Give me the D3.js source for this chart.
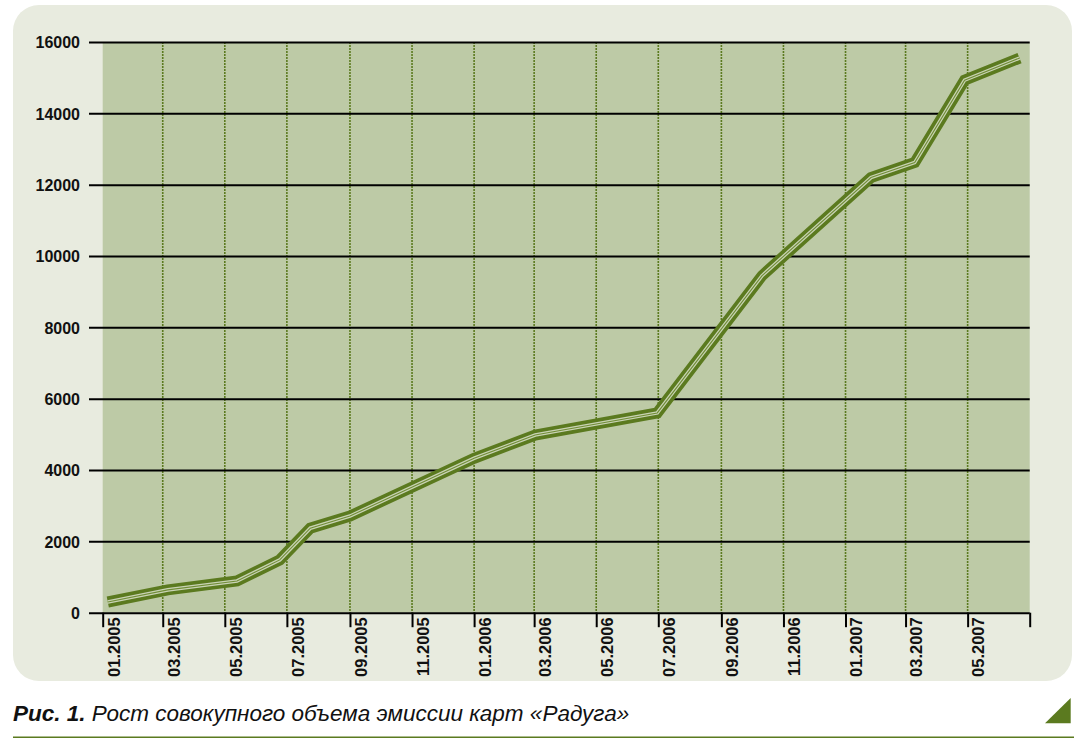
<!DOCTYPE html>
<html>
<head>
<meta charset="utf-8">
<script src="https://cdn.jsdelivr.net/npm/d3@7"></script>
<style>
  body { margin: 0; background: #fff; }
  svg text { fill: #111; }
</style>
</head>
<body>
<div class="chart"></div>
<script>
// cumulative card emission
const pointDates = ['2005-01-06', '2005-03-06', '2005-05-13', '2005-06-24', '2005-07-24', '2005-09-01',
  '2006-01-01', '2006-03-02', '2006-06-30', '2006-10-11', '2007-01-26', '2007-03-10', '2007-04-28', '2007-06-21'];
const emission = [300, 640, 890, 1480, 2370, 2710, 4330, 4980, 5600, 9450, 12200, 12620, 14930, 15550];
const yTicks = [0, 2000, 4000, 6000, 8000, 10000, 12000, 14000, 16000];
const xTickLabels = ['01.2005', '03.2005', '05.2005', '07.2005', '09.2005', '11.2005', '01.2006', '03.2006',
  '05.2006', '07.2006', '09.2006', '11.2006', '01.2007', '03.2007', '05.2007', ''];
const caption = ['Рис. 1.', ' Рост совокупного объема эмиссии карт «Радуга»'];

const W = 1087, H = 750;
const margin = {top: 42, right: 57, bottom: 138, left: 102.7};
const green = '#5b7a1f';

let parseDay = d3.timeParse('%Y-%m-%d');
let parseMonth = d3.timeParse('%m.%Y');
let data = pointDates.map((d, i) => ({date: parseDay(d), value: emission[i]}));

let svg = d3.select('.chart')
  .append('svg')
  .attr('width', W)
  .attr('height', H);

// panel behind the chart
svg.append('rect')
  .attr('x', 13).attr('y', 5)
  .attr('width', 1059).attr('height', 676)
  .attr('rx', 26)
  .attr('fill', '#e8ebdf');

let xScale = d3.scaleTime()
  .domain([parseMonth('01.2005'), parseMonth('07.2007')])
  .range([margin.left, W - margin.right - 0.3]);

let yScale = d3.scaleLinear()
  .domain([0, 16000])
  .range([612.7, margin.top]);

let x0 = xScale.range()[0], x1 = xScale.range()[1];

svg.append('rect')
  .attr('x', x0).attr('y', yScale(16000))
  .attr('width', x1 - x0).attr('height', yScale(0) - yScale(16000))
  .attr('fill', '#bdcaa6');

let tickDates = d3.timeMonth.every(2).range(xScale.domain()[0], d3.timeMonth.offset(xScale.domain()[1], 1));

// dotted verticals
svg.append('g')
  .selectAll('line')
  .data(tickDates.slice(1, -1))
  .enter()
  .append('line')
  .attr('x1', d => xScale(d)).attr('x2', d => xScale(d))
  .attr('y1', yScale(16000)).attr('y2', yScale(0))
  .attr('stroke', green)
  .attr('stroke-width', 1.6)
  .attr('stroke-dasharray', '2,1');

// horizontal grid + y labels
let yAxis = svg.append('g')
  .attr('transform', `translate(${x1}, 0)`)
  .call(d3.axisLeft(yScale).tickValues(yTicks).tickSize(x1 - 89).tickPadding(9).tickFormat(d3.format('d')));
yAxis.select('.domain').remove();
yAxis.selectAll('.tick line').attr('stroke', '#000').attr('stroke-width', 2);
yAxis.selectAll('.tick text')
  .attr('font-family', '"Liberation Sans", Arial, sans-serif')
  .attr('font-weight', 'bold')
  .attr('font-size', 16)
  .attr('dy', '0.37em');

// x ticks
let xAxis = svg.append('g')
  .attr('transform', `translate(0, ${yScale(0)})`)
  .call(d3.axisBottom(xScale).tickValues(tickDates).tickSize(14.5).tickFormat((d, i) => xTickLabels[i]));
xAxis.select('.domain').remove();
xAxis.selectAll('.tick line').attr('stroke', '#000').attr('stroke-width', 2);
xAxis.selectAll('.tick text')
  .attr('font-family', '"Liberation Sans Narrow", "Liberation Sans", Arial, sans-serif')
  .attr('font-weight', 'bold')
  .attr('font-size', 16.5)
  .attr('text-anchor', 'end')
  .attr('transform', 'translate(16.3, 4.6) rotate(-90)')
  .attr('x', 0).attr('y', 0).attr('dy', 0);

// the line: dark band, light stripe, thin middle
let line = d3.line()
  .x(d => xScale(d.date))
  .y(d => yScale(d.value));

[[green, 11], ['#c9d3b4', 3.6], ['#6f8c35', 1.1]].forEach(s => {
  svg.append('path')
    .attr('d', line(data))
    .attr('fill', 'none')
    .attr('stroke', s[0])
    .attr('stroke-width', s[1])
    .attr('stroke-linejoin', 'miter')
    .attr('stroke-linecap', 'butt');
});

// caption
let cap = svg.append('text')
  .attr('x', 13).attr('y', 721)
  .attr('font-family', '"Liberation Sans", Arial, sans-serif')
  .attr('font-style', 'italic')
  .attr('font-size', 22.5);
cap.append('tspan').attr('font-weight', 'bold').text(caption[0]);
cap.append('tspan').text(caption[1]);

svg.append('line')
  .attr('x1', 13).attr('x2', 1074)
  .attr('y1', 737.3).attr('y2', 737.3)
  .attr('stroke', green)
  .attr('stroke-width', 1.5);

svg.append('path')
  .attr('d', 'M1070.7,698 L1070.7,723.3 L1045,723.3 Z')
  .attr('fill', green);
</script>
</body>
</html>
